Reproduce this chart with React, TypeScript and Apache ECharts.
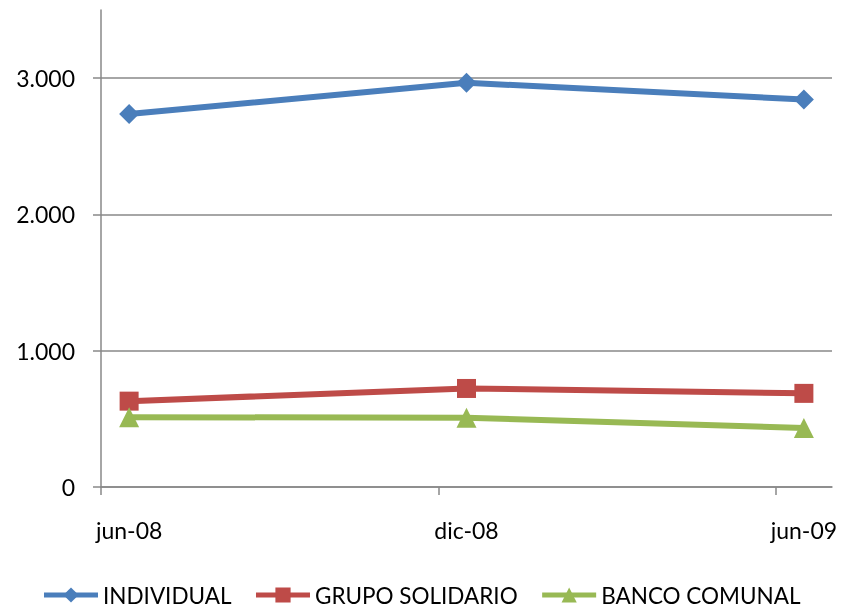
import React, { useEffect, useRef } from "react";
import * as echarts from "echarts";

const categories = ["jun-08", "dic-08", "jun-09"];
const monthIndex = [0, 6, 12];
const individual = [2737, 2966, 2843];
const grupoSolidario = [630, 723, 687];
const bancoComunal = [512, 509, 433];
const yTicks = [0, 1000, 2000, 3000];

const FONT = "Lato, 'Open Sans', sans-serif";

function fmt(v: number) {
  return String(Math.round(v)).replace(/\B(?=(\d{3})+(?!\d))/g, ".");
}

export default function App() {
  const ref = useRef<HTMLDivElement>(null);
  useEffect(() => {
    if (!ref.current) return;
    const chart = echarts.init(ref.current, undefined, { renderer: "svg" });
    const mk = (vals: number[]) => vals.map((v, i) => [monthIndex[i], v]);
    const series = [
      { name: "INDIVIDUAL", data: mk(individual), color: "#4A7EBB", symbol: "diamond", size: 20 },
      { name: "GRUPO SOLIDARIO", data: mk(grupoSolidario), color: "#BE4B48", symbol: "rect", size: 19 },
      { name: "BANCO COMUNAL", data: mk(bancoComunal), color: "#98B954", symbol: "triangle", size: 20 },
    ];
    chart.setOption({
      animation: false,
      textStyle: { fontFamily: FONT },
      grid: { left: 101, right: 10, top: 10, bottom: 123, containLabel: false },
      xAxis: {
        type: "value",
        min: -0.5,
        max: 12.5,
        axisLine: { onZero: false, lineStyle: { color: "#888888", width: 1.5 } },
        axisTick: { show: true, length: 8, customValues: [-0.5, 5.5, 11.5], lineStyle: { color: "#888888", width: 1.5 } },
        axisLabel: {
          customValues: monthIndex,
          formatter: (v: number) => {
            const i = monthIndex.indexOf(v);
            return i >= 0 ? categories[i] : "";
          },
          color: "#000",
          fontSize: 23,
          fontFamily: FONT,
          margin: 31,
        },
        splitLine: { show: false },
      },
      yAxis: {
        type: "value",
        min: 0,
        max: 3500,
        interval: 1000,
        axisLine: { show: true, onZero: false, lineStyle: { color: "#888888", width: 1.5 } },
        axisTick: { show: true, length: 8, customValues: yTicks, lineStyle: { color: "#888888", width: 1.5 } },
        axisLabel: {
          customValues: yTicks,
          formatter: (v: number) => fmt(v),
          color: "#000",
          fontSize: 23,
          fontFamily: FONT,
          margin: 26,
        },
        splitLine: { show: true, lineStyle: { color: "#888888", width: 1.5 } },
      },
      legend: {
        bottom: 2,
        left: "center",
        padding: 0,
        itemWidth: 54,
        itemHeight: 19,
        itemGap: 22,
        lineStyle: { width: 5 },
        textStyle: { color: "#000", fontSize: 22.5, fontFamily: FONT, lineHeight: 26 },
        data: series.map((s) => s.name),
      },
      series: series.map((s) => ({
        type: "line",
        name: s.name,
        data: s.data,
        symbol: s.symbol,
        symbolSize: s.size,
        showAllSymbol: true,
        itemStyle: { color: s.color },
        lineStyle: { color: s.color, width: 6 },
      })),
    });
    return () => chart.dispose();
  }, []);
  return (
    <div
      ref={ref}
      style={{ position: "fixed", left: 0, top: 0, width: 842, height: 610 }}
    />
  );
}
